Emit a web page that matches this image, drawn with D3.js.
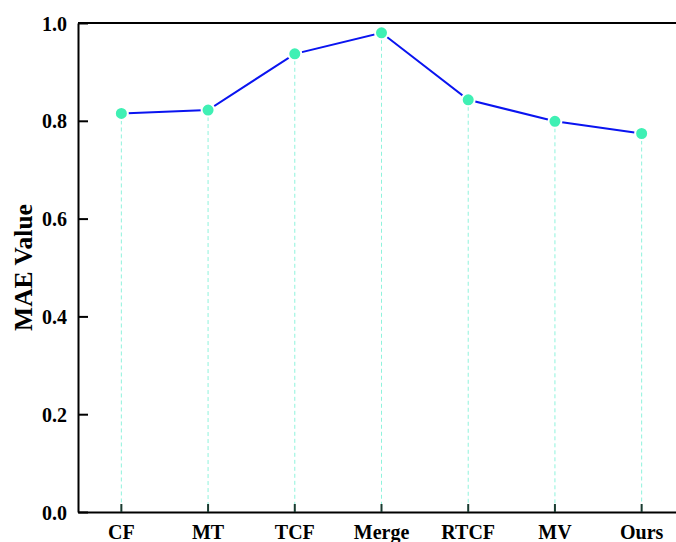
<!DOCTYPE html>
<html>
<head>
<meta charset="utf-8">
<script src="https://cdn.jsdelivr.net/npm/d3@7"></script>
<style>
  html, body { margin: 0; padding: 0; background: #fff; }
  svg { display: block; }
  text { font-family: "Liberation Serif", "Times New Roman", serif; font-weight: bold; fill: #000; }
</style>
</head>
<body>
<svg id="chart" width="676" height="542"></svg>
<script>
// Methods compared and their MAE
const methods = ["CF", "MT", "TCF", "Merge", "RTCF", "MV", "Ours"];
const maeValues = [0.815, 0.822, 0.937, 0.980, 0.843, 0.799, 0.774];
const yTicks = [0.0, 0.2, 0.4, 0.6, 0.8, 1.0];

const svg = d3.select("#chart");
const plotLeft = 78, plotTop = 23, plotBottom = 512, plotRight = 685;

const x = d3.scaleBand().domain(methods).range([plotLeft, plotRight]).paddingInner(0).paddingOuter(0);
const y = d3.scaleLinear().domain([0, 1]).range([plotBottom, plotTop]);
const cx = d => x(d) + x.bandwidth() / 2;

const data = methods.map((m, i) => ({ m, v: maeValues[i] }));

// dashed drop lines from each point to the baseline
svg.append("g").selectAll("line").data(data).join("line")
  .attr("x1", d => cx(d.m)).attr("x2", d => cx(d.m))
  .attr("y1", d => y(d.v)).attr("y2", plotBottom)
  .attr("stroke", "#8ff3dc").attr("stroke-width", 1)
  .attr("stroke-dasharray", "4,3");

// frame: top line
svg.append("line").attr("x1", plotLeft).attr("x2", 676).attr("y1", plotTop).attr("y2", plotTop)
  .attr("stroke", "#000").attr("stroke-width", 2);

// y axis with inward ticks
const yAxis = d3.axisLeft(y).tickValues(yTicks).tickFormat(d3.format(".1f"))
  .tickSizeInner(-10).tickSizeOuter(0).tickPadding(11);
const gy = svg.append("g").attr("transform", `translate(${plotLeft},0)`).call(yAxis);
gy.select(".domain").attr("stroke", "#000").attr("stroke-width", 2);
gy.selectAll(".tick line").attr("stroke", "#000").attr("stroke-width", 2);
gy.selectAll(".tick text").style("font-size", "20px").attr("dy", "0.35em")
  .style("font-family", "'Liberation Serif', serif").style("font-weight", "bold");

// x axis with short inward ticks
const xAxis = d3.axisBottom(x).tickSizeInner(-8).tickSizeOuter(0).tickPadding(13);
const gx = svg.append("g").attr("transform", `translate(0,${plotBottom})`).call(xAxis);
gx.select(".domain").attr("stroke", "#000").attr("stroke-width", 2);
gx.selectAll(".tick line").attr("stroke", "#1a3a30").attr("stroke-width", 2);
gx.selectAll(".tick text").style("font-size", "20px")
  .style("font-family", "'Liberation Serif', serif").style("font-weight", "bold");

// connecting line
svg.append("path").datum(data)
  .attr("fill", "none").attr("stroke", "#0a14f0").attr("stroke-width", 2)
  .attr("d", d3.line().x(d => cx(d.m)).y(d => y(d.v)));

// point markers
svg.append("g").selectAll("circle").data(data).join("circle")
  .attr("cx", d => cx(d.m)).attr("cy", d => y(d.v)).attr("r", 6.5)
  .attr("fill", "#3ff0b4").attr("stroke", "#fff").attr("stroke-width", 2);

// y axis title
svg.append("text")
  .attr("transform", `translate(32,${(plotTop + plotBottom) / 2}) rotate(-90)`)
  .attr("text-anchor", "middle")
  .style("font-size", "25.5px")
  .text("MAE Value");
</script>
</body>
</html>
